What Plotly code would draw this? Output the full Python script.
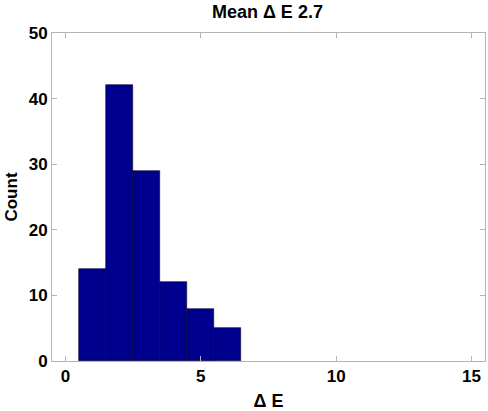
import plotly.graph_objects as go

bin_centers = [1, 2, 3, 4, 5, 6]
counts = [14, 42, 29, 12, 8, 5]
x_ticks = [0, 5, 10, 15]
y_ticks = [0, 10, 20, 30, 40, 50]
title_text = "Mean \u0394 E 2.7"
x_label = "\u0394 E"
y_label = "Count"

font_family = "Liberation Sans, Arial, sans-serif"

fig = go.Figure()
fig.add_trace(go.Bar(
    x=bin_centers, y=counts, width=1,
    marker=dict(color="#00008F", line=dict(color="#00002a", width=0.6)),
))

axis_common = dict(
    showline=True, linecolor="#b4b4b4", linewidth=1, mirror="ticks",
    ticks="inside", ticklen=5, tickcolor="#b4b4b4", showgrid=False, zeroline=False,
    tickfont=dict(family=font_family, size=17, color="black", weight="bold"),
)

fig.update_layout(
    width=488, height=411,
    margin=dict(l=52, r=3, t=33, b=50),
    paper_bgcolor="white", plot_bgcolor="white",
    showlegend=False,
    bargap=0,
    title=dict(text=title_text, x=0.548, xanchor="center", y=0.972, yanchor="middle",
               font=dict(family=font_family, size=18, color="black", weight="bold")),
    xaxis=dict(range=[-0.5, 15.5], tickvals=x_ticks,
               title=dict(text=x_label, standoff=10,
                          font=dict(family=font_family, size=18, color="black", weight="bold")),
               **axis_common),
    yaxis=dict(range=[0, 50], tickvals=y_ticks,
               title=dict(text=y_label, standoff=6,
                          font=dict(family=font_family, size=17, color="black", weight="bold")),
               **axis_common),
)

fig.write_html("out.html")
